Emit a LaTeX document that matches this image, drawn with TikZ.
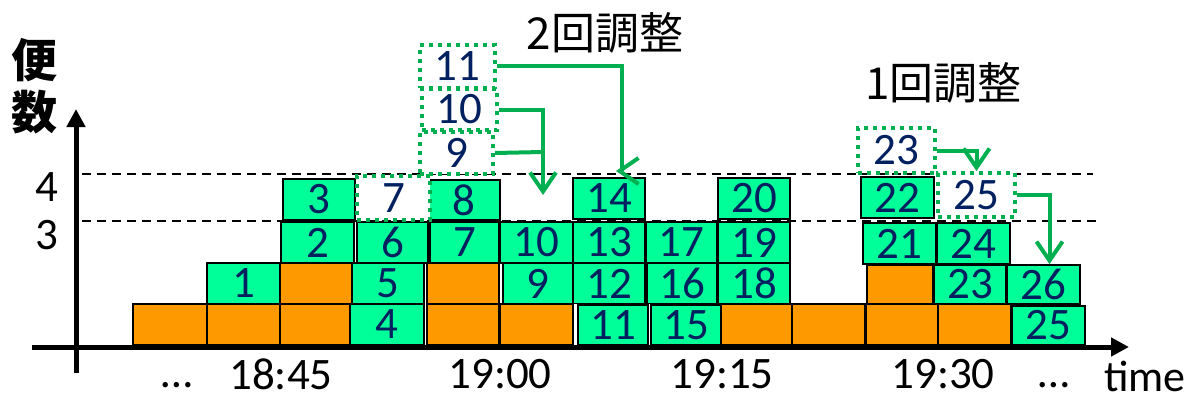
\documentclass[tikz,border=0pt]{standalone}
\usepackage{fontspec}
\setmainfont{Carlito}
\newfontfamily\cjk{Noto Sans CJK JP}
\usetikzlibrary{arrows.meta}
\definecolor{gfill}{RGB}{0,255,153}
\definecolor{ofill}{RGB}{255,153,0}
\definecolor{navy}{RGB}{0,32,96}
\definecolor{dgreen}{RGB}{0,176,80}
\begin{document}
\begin{tikzpicture}[x=1pt,y=-1pt,
  sz/.style 2 args={minimum width=#1pt,minimum height=#2pt},
  blk/.style={draw=black,line width=1.8pt,inner sep=0pt,minimum width=73pt,minimum height=41pt,font=\fontsize{45}{45}\selectfont},
  gb/.style={blk,fill=gfill,text=navy},
  ob/.style={blk,fill=ofill},
  db/.style={draw=dgreen,line width=4pt,dash pattern=on 4pt off 5pt,fill=white,text=navy,inner sep=0pt,font=\fontsize{45}{45}\selectfont},
  garrow/.style={draw=dgreen,line width=4pt,-{Straight Barb[length=19pt,width=26pt]}},
  gline/.style={draw=dgreen,line width=4pt},
  axis/.style={line width=5pt,-{Triangle[length=18pt,width=18pt]}},
  guide/.style={line width=2pt,dash pattern=on 9pt off 6pt},
  lbl/.style={font=\fontsize{45}{45}\selectfont,inner sep=0pt},
  cjklbl/.style={font=\cjk\fontsize{44}{44}\selectfont,inner sep=0pt},
]
\useasboundingbox (0,0) rectangle (1199,404);
\fill[white] (0,0) rectangle (1199,404);

% guide lines
\draw[guide] (82,174) -- (1093,174);
\draw[guide] (82,221) -- (1100,221);

% bottom row
\node[ob,sz={74}{41}] (o1) at (170,324.5) {};
\node[ob,sz={73}{41}] (o2) at (243.5,324.5) {};
\node[ob,sz={69}{41}] (o3) at (315,324.5) {};
\node[gb,sz={74}{41}] (g4) at (387,324.5) {4};
\node[ob,sz={72}{41}] (o4) at (463,324.5) {};
\node[ob,sz={73}{41}] (o5) at (536.5,324.5) {};
\node[gb,sz={70}{40}] (g11) at (613,325) {11};
\node[gb,sz={70}{40}] (g15) at (686,325) {15};
\node[ob,sz={71}{41}] (o6) at (756.5,324.5) {};
\node[ob,sz={73}{41}] (o7) at (828.5,324.5) {};
\node[ob,sz={72}{41}] (o8) at (902,324.5) {};
\node[ob,sz={73}{41}] (o9) at (974.5,324.5) {};
\node[gb,sz={73}{39}] (g25) at (1048.5,325.5) {25};

% row 2
\node[gb,sz={73}{41}] (g1) at (243.5,283.5) {1};
\node[ob,sz={72}{41}] (oa) at (316,283.5) {};
\node[gb,sz={72}{41}] (g5) at (388,283.5) {5};
\node[ob,sz={72}{41}] (ob2) at (463,283.5) {};
\node[gb,sz={70}{41}] (g9) at (538,283.5) {9};
\node[gb,sz={72}{40}] (g12) at (609,283.5) {12};
\node[gb,sz={70}{40}] (g16) at (682,283.5) {16};
\node[gb,sz={72}{41}] (g18) at (754,283.5) {18};
\node[ob,sz={66}{39}] (oc) at (900,284.5) {};
\node[gb,sz={72}{39}] (g23) at (970,284.5) {23};
\node[gb,sz={73}{39}] (g26) at (1043.5,284.5) {26};

% row 3
\node[gb,sz={73}{41}] (g2) at (317.5,242.5) {2};
\node[gb,sz={71}{41}] (g6) at (392.5,242.5) {6};
\node[gb,sz={69}{41}] (g7) at (464.5,242.5) {7};
\node[gb,sz={73}{41}] (g10) at (536.5,242.5) {10};
\node[gb,sz={72}{41}] (g13) at (609,242.5) {13};
\node[gb,sz={71}{41}] (g17) at (681.5,242.5) {17};
\node[gb,sz={72}{41}] (g19) at (754,242.5) {19};
\node[gb,sz={73}{41}] (g21) at (899.5,243.5) {21};
\node[gb,sz={73}{41}] (g24) at (973.5,243.5) {24};

% row 4
\node[gb,sz={72}{41}] (g3) at (319,199.5) {3};
\node[gb,sz={72}{40}] (g8) at (464,200) {8};
\node[gb,sz={72}{41}] (g14) at (609,198.5) {14};
\node[gb,sz={72}{41}] (g20) at (754,198.5) {20};
\node[gb,sz={73}{41}] (g22) at (897.5,197.5) {22};

% dotted (moved) flights
\node[db,sz={73}{44}] (d7) at (393.5,198) {7};
\node[db,sz={77}{44}] (d25) at (976.5,195) {25};
\node[db,sz={77}{45}] (d23) at (896.5,150.5) {23};
\node[db,sz={75}{43}] (d11) at (457.5,66.5) {11};
\node[db,sz={75}{41}] (d10) at (459.5,109.5) {10};
\node[db,sz={73}{42}] (d9) at (456.5,153) {9};

% arrows
\coordinate (c14) at (622,171);
\coordinate (t14) at (616,171);
\coordinate (t10) at (543,195);
\coordinate (j9) at (543,152);
\draw[gline] (d11.east) -| (c14);
\draw[garrow] (c14) -- (t14);
\draw[garrow] (d10.east) -| (t10);
\draw[gline] (d9.east) -- (j9);
\draw[garrow] (d23.east) -| (d25.north);
\draw[garrow] (d25.east) -| ([xshift=6pt]g26.north);

% axes
\coordinate (xs) at (32,347);
\coordinate (xe) at (1129,347);
\coordinate (ys) at (76,373);
\coordinate (ye) at (76,109);
\draw[axis] (xs) -- (xe);
\draw[axis] (ys) -- (ye);

% labels
\node[lbl] (l4) at (47,187) {4};
\node[lbl] (l3) at (47,235) {3};
\node[font=\cjk\bfseries\fontsize{46}{46}\selectfont,inner sep=0pt] (ybin) at (35,60) {便};
\node[font=\cjk\bfseries\fontsize{46}{46}\selectfont,inner sep=0pt] (ysu) at (35,112) {数};
\node[cjklbl] (adj2) at (605,33) {2回調整};
\node[cjklbl] (adj1) at (943.5,83) {1回調整};
\node[lbl] (tdl) at (177,385) {…};
\node[lbl] (t1845) at (281,374) {18:45};
\node[lbl] (t1900) at (500,374) {19:00};
\node[lbl] (t1915) at (722,374) {19:15};
\node[lbl] (t1930) at (943,374) {19:30};
\node[lbl] (tdr) at (1054,385) {…};
\node[lbl,font=\fontsize{44}{44}\selectfont,anchor=base west] (time) at (1104,391) {time};
\end{tikzpicture}
\end{document}
